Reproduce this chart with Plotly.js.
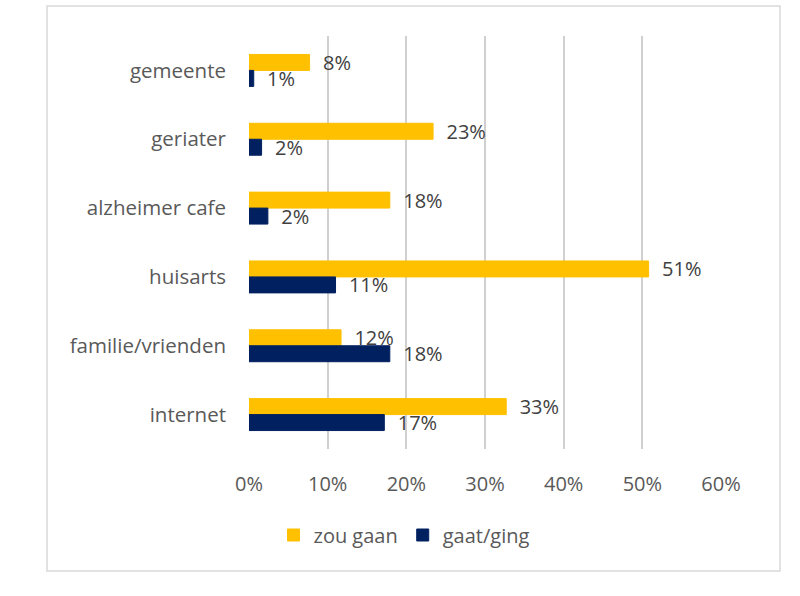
<!DOCTYPE html>
<html>
<head>
<meta charset="utf-8">
<script src="https://cdn.plot.ly/plotly-3.0.1.min.js"></script>
<style>
  html, body { margin: 0; padding: 0; background: #fff; }
  #chart { width: 800px; height: 596px; }
</style>
</head>
<body>
<div id="chart"></div>
<script>
const categories = ["gemeente", "geriater", "alzheimer cafe", "huisarts", "familie/vrienden", "internet"];
const zouGaan = [0.077, 0.234, 0.179, 0.508, 0.117, 0.327];
const gaatGing = [0.006, 0.016, 0.024, 0.110, 0.179, 0.172];
const seriesNames = ["zou gaan", "gaat/ging"];
const tickVals = [0, 0.1, 0.2, 0.3, 0.4, 0.5, 0.6];
const tickLabels = ["0%", "10%", "20%", "30%", "40%", "50%", "60%"];

const FONT = "Open Sans, sans-serif";
const pad = "\u00a0\u00a0";

function barTrace(name, vals, color) {
  return {
    type: "bar",
    orientation: "h",
    name: name,
    x: vals,
    y: categories,
    marker: { color: color, line: { color: color, width: 1 } },
    texttemplate: pad + "%{x:.0%}",
    textposition: "outside",
    constraintext: "none",
    cliponaxis: false,
    textfont: { family: FONT, size: 20, color: "#404040" },
    hoverinfo: "x+y"
  };
}

const data = [
  barTrace(seriesNames[0], zouGaan, "#FFC000"),
  barTrace(seriesNames[1], gaatGing, "#002060")
];

const L = 249, R = 721, T = 36, B = 449, W = 800, H = 596;
const pw = R - L, ph = B - T;
function px(x) { return (x - L) / pw; }
function py(y) { return (B - y) / ph; }

const layout = {
  width: W, height: H,
  margin: { l: L, r: W - R, t: T, b: H - B, pad: 0 },
  paper_bgcolor: "#fff",
  plot_bgcolor: "#fff",
  font: { family: FONT, size: 20, color: "#595959" },
  barmode: "group",
  bargap: 0.536,
  bargroupgap: 0,
  showlegend: true,
  legend: {
    orientation: "h",
    xref: "container", yref: "container",
    x: 404 / W, xanchor: "center",
    y: 1 - 535 / H, yanchor: "middle",
    font: { family: FONT, size: 20, color: "#595959" },
    itemwidth: 30,
    traceorder: "normal"
  },
  xaxis: {
    range: [0, 0.6],
    tickvals: tickVals,
    ticktext: tickLabels,
    showgrid: true,
    gridcolor: "#D0D0D0",
    gridwidth: 1.8,
    zeroline: false,
    showline: false,
    ticks: "",
    ticklabelstandoff: 21,
    tickfont: { family: FONT, size: 20, color: "#595959" },
    fixedrange: true
  },
  yaxis: {
    type: "category",
    autorange: "reversed",
    showgrid: false,
    zeroline: false,
    showline: false,
    ticks: "",
    ticklabelstandoff: 22,
    tickfont: { family: FONT, size: 20.5, color: "#595959" },
    fixedrange: true
  },
  shapes: [{
    type: "rect", xref: "paper", yref: "paper",
    x0: px(47), x1: px(780), y0: py(571), y1: py(6),
    line: { color: "#D9D9D9", width: 1.5 },
    fillcolor: "rgba(0,0,0,0)",
    layer: "below"
  }]
};

Plotly.newPlot("chart", data, layout, { displayModeBar: false, staticPlot: true });
</script>
</body>
</html>
